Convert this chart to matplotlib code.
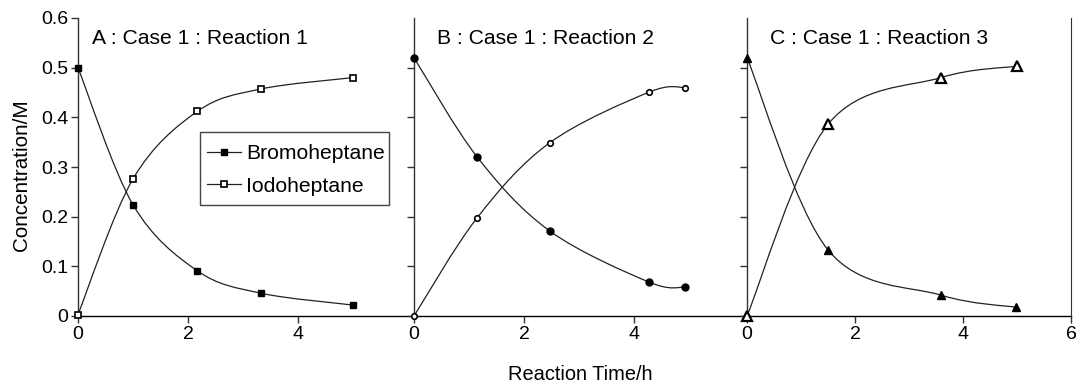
import matplotlib
matplotlib.use("Agg")
import matplotlib.pyplot as plt
from matplotlib.path import Path
from matplotlib.patches import PathPatch, Rectangle
from matplotlib.lines import Line2D

plt.rcParams['font.family'] = ['Liberation Sans', 'DejaVu Sans']

# ---- data ----
titles = ["A : Case 1 : Reaction 1", "B : Case 1 : Reaction 2", "C : Case 1 : Reaction 3"]
series_names = ["Bromoheptane", "Iodoheptane"]

a_time_bromo = [0.0, 1.0, 2.17, 3.32, 5.0]
a_bromo = [0.500, 0.224, 0.091, 0.046, 0.022]
a_time_iodo = [0.0, 1.0, 2.17, 3.32, 5.0]
a_iodo = [0.003, 0.276, 0.412, 0.457, 0.480]

b_time_bromo = [0.0, 1.15, 2.47, 4.28, 4.93]
b_bromo = [0.520, 0.320, 0.171, 0.068, 0.058]
b_time_iodo = [0.0, 1.15, 2.47, 4.28, 4.93]
b_iodo = [0.0, 0.198, 0.349, 0.451, 0.460]

c_time_bromo = [0.0, 1.50, 3.59, 4.99]
c_bromo = [0.520, 0.133, 0.042, 0.0175]
c_time_iodo = [0.0, 1.50, 3.59, 5.0]
c_iodo = [0.0, 0.386, 0.480, 0.503]

yticks = [0, 0.1, 0.2, 0.3, 0.4, 0.5, 0.6]
ytick_labels = ["0", "0.1", "0.2", "0.3", "0.4", "0.5", "0.6"]


def smooth_line(ax, xs, ys, color="#222222", lw=0.9):
    """Excel-style smoothed line (Catmull-Rom Bezier) through the data points."""
    pts = list(zip(xs, ys))
    n = len(pts)
    verts = [pts[0]]
    codes = [Path.MOVETO]
    for i in range(n - 1):
        p0 = pts[i - 1] if i > 0 else pts[i]
        p1 = pts[i]
        p2 = pts[i + 1]
        p3 = pts[i + 2] if i + 2 < n else pts[i + 1]
        c1 = (p1[0] + (p2[0] - p0[0]) / 6.0, p1[1] + (p2[1] - p0[1]) / 6.0)
        c2 = (p2[0] - (p3[0] - p1[0]) / 6.0, p2[1] - (p3[1] - p1[1]) / 6.0)
        verts += [c1, c2, p2]
        codes += [Path.CURVE4, Path.CURVE4, Path.CURVE4]
    patch = PathPatch(Path(verts, codes), facecolor="none", edgecolor=color,
                      lw=lw, transform=ax.transData, zorder=2)
    ax.add_patch(patch)


W, H = 1077, 385
fig = plt.figure(figsize=(W / 100, H / 100), dpi=100)

bottom = (H - 316) / H
height = 298 / H
ax_specs = [(78, 336, 336 / 55.0), (414, 334, 334 / 55.0), (747, 324, 6.0)]
axes = []
for left, width, xmax in ax_specs:
    ax = fig.add_axes([left / W, bottom, width / W, height])
    ax.set_xlim(0, xmax)
    ax.set_ylim(0, 0.6)
    axes.append(ax)

# marker, filled size, open size, open edge width
data = [
    (a_time_bromo, a_bromo, a_time_iodo, a_iodo, "s", 5.0, 4.3, 1.2),
    (b_time_bromo, b_bromo, b_time_iodo, b_iodo, "o", 5.0, 4.0, 1.2),
    (c_time_bromo, c_bromo, c_time_iodo, c_iodo, "^", 5.8, 7.0, 1.6),
]
title_x = [0.042, 0.068, 0.071]

for i, (ax, (tb, vb, ti, vi, mk, msb, msi, mew)) in enumerate(zip(axes, data)):
    smooth_line(ax, tb, vb)
    smooth_line(ax, ti, vi)
    ax.plot(tb, vb, linestyle="none", marker=mk, ms=msb, color="black",
            mfc="black", mec="black", zorder=3, clip_on=False)
    ax.plot(ti, vi, linestyle="none", marker=mk, ms=msi, color="black",
            mfc="white", mec="black", mew=mew, zorder=3, clip_on=False)
    ax.text(title_x[i], 0.913, titles[i], transform=ax.transAxes, fontsize=15.2,
            va="baseline", ha="left", color="black")

    for side in ("top", "right"):
        ax.spines[side].set_visible(False)
    ax.spines["left"].set_color("#333333")
    ax.spines["left"].set_linewidth(1.0)
    ax.spines["bottom"].set_color("black")
    ax.spines["bottom"].set_linewidth(1.0)
    ax.tick_params(direction="out", length=5, width=1.0, color="#333333",
                   labelsize=14, pad=2)
    if i == 0:
        ax.set_yticks(yticks)
        ax.set_yticklabels(ytick_labels)
        ax.set_xticks([0, 2, 4])
    else:
        ax.set_yticks(yticks[:-1])
        ax.set_yticklabels([])
        ax.set_xticks([0, 2, 4] if i == 1 else [0, 2, 4, 6])

axes[2].spines["right"].set_visible(True)
axes[2].spines["right"].set_color("#333333")

# legend in panel A (frame drawn separately for exact padding)
axA = axes[0]
frame = Rectangle((0.363, 0.372), 0.563, 0.245, transform=axA.transAxes,
                  facecolor="white", edgecolor="#444444", lw=1.0, zorder=4)
axA.add_patch(frame)
handles = [
    Line2D([], [], color="#222222", lw=0.9, marker="s", ms=4.5, mfc="black", mec="black"),
    Line2D([], [], color="#222222", lw=0.9, marker="s", ms=4.3, mfc="white", mec="black", mew=1.2),
]
leg = axA.legend(handles, series_names, loc="center left",
                 bbox_to_anchor=(0.384, 0.49), borderaxespad=0, borderpad=0,
                 fontsize=15.2, frameon=False, handlelength=1.6,
                 handletextpad=0.25, labelspacing=0.62)
leg.set_zorder(5)

fig.text(22 / W, 1 - 175 / H, "Concentration/M", rotation=90, fontsize=14.9,
         ha="center", va="center")
fig.text(580 / W, 1 - 375 / H, "Reaction Time/h", fontsize=14.4,
         ha="center", va="center")

fig.savefig("out.png", dpi=100)
